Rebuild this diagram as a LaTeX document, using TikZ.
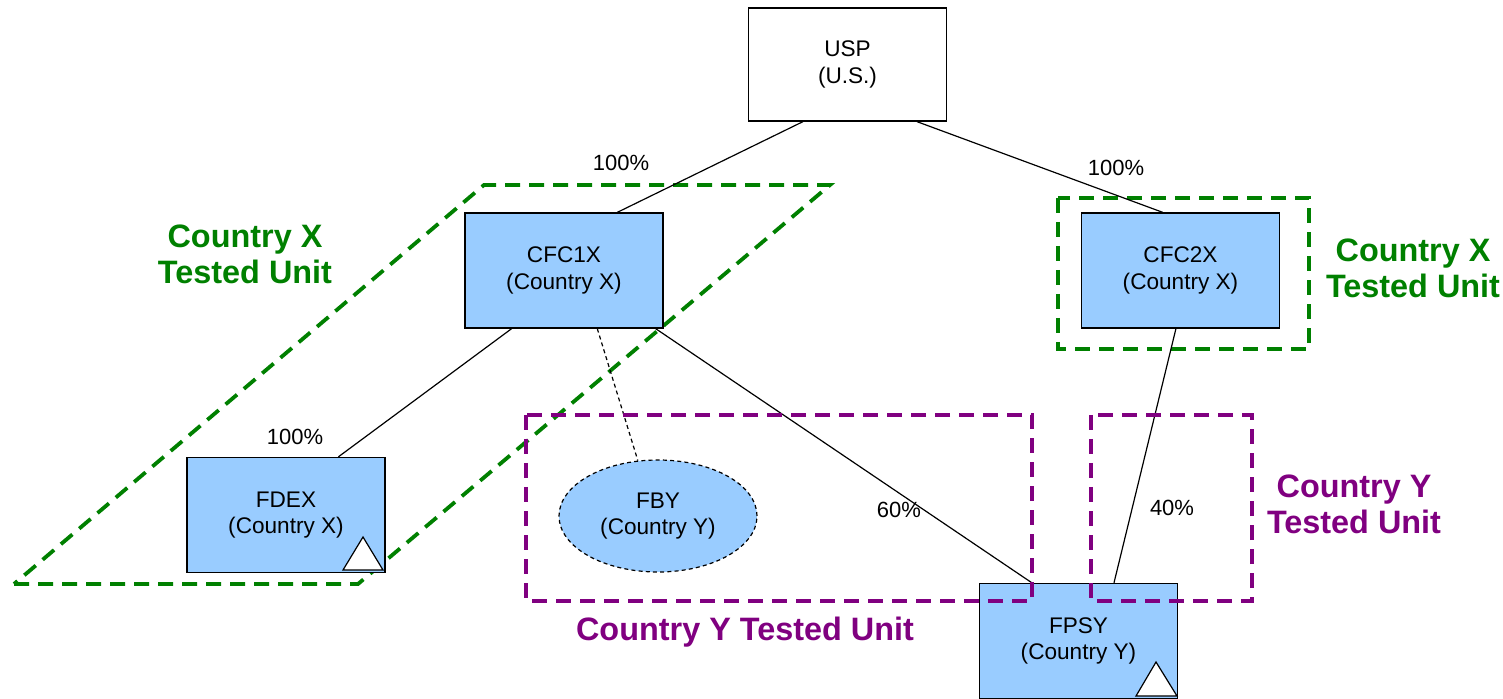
\documentclass[tikz,border=0pt]{standalone}
\usepackage{fontspec}
\setmainfont{Liberation Sans}
\usetikzlibrary{calc,shapes.geometric}
\definecolor{boxblue}{HTML}{99CCFF}
\definecolor{unitgreen}{HTML}{008000}
\definecolor{unitpurple}{HTML}{800080}
\begin{document}
\begin{tikzpicture}[x=0.5pt,y=-0.5pt,
  entity/.style={draw=black, line width=0.7pt, fill=boxblue, minimum width=99pt,
    minimum height=57.5pt, inner sep=0pt, align=center,
    font=\fontsize{11.3}{13.2}\selectfont},
  topbox/.style={entity, fill=white, minimum height=56.5pt},
  pct/.style={inner sep=0pt, font=\fontsize{11}{13}\selectfont},
  link/.style={draw=black, line width=0.6pt},
  weaklink/.style={link, dash pattern=on 2pt off 1.6pt},
  greenunit/.style={draw=unitgreen, line width=1.9pt, dash pattern=on 7.5pt off 4.5pt},
  purpleunit/.style={draw=unitpurple, line width=1.9pt, dash pattern=on 7.5pt off 4.5pt},
  greenlabel/.style={text=unitgreen, align=center, inner sep=0pt,
    font=\fontsize{16.2}{18}\selectfont\bfseries},
  purplelabel/.style={greenlabel, text=unitpurple},
  flag/.style={draw=black, line width=0.6pt, fill=white},
]
\useasboundingbox (0,0) rectangle (1503,699);

% tested unit of Country X around CFC1X and FDEX
\draw[greenunit] (14,584) -- (358,584) -- (830,185) -- (484,185) -- cycle;
% tested unit of Country X around CFC2X
\draw[greenunit] (1058,198) rectangle (1309,349);

% entities
\node[topbox] (usp) at (847.5,64.5) {USP\\(U.S.)};
\node[entity] (cfc1x) at (564,270.5) {CFC1X\\(Country X)};
\node[entity] (cfc2x) at (1180.5,270.5) {CFC2X\\(Country X)};
\node[entity] (fdex) at (286,515) {FDEX\\(Country X)};
\node[entity, ellipse, dash pattern=on 2pt off 1.6pt, line width=0.6pt,
  minimum width=99pt, minimum height=56pt] (fby) at (658,516) {FBY\\(Country Y)};
\node[entity] (fpsy) at (1078.5,641) {FPSY\\(Country Y)};

% hybrid flags
\draw[flag] (343,570) -- (383,570) -- (363,537) -- cycle;
\draw[flag] (1136,696) -- (1177,696) -- (1156,662) -- cycle;

% ownership links
\draw[link] ($(usp.south west)!0.276!(usp.south east)$) -- ($(cfc1x.north west)!0.768!(cfc1x.north east)$);
\draw[link] ($(usp.south west)!0.849!(usp.south east)$) -- ($(cfc2x.north west)!0.41!(cfc2x.north east)$);
\draw[link] ($(cfc1x.south west)!0.237!(cfc1x.south east)$) -- ($(fdex.north west)!0.763!(fdex.north east)$);
\draw[weaklink] ($(cfc1x.south west)!0.667!(cfc1x.south east)$) -- (fby.110);
\draw[link] ($(cfc1x.south west)!0.96!(cfc1x.south east)$) -- ($(fpsy.north west)!0.266!(fpsy.north east)$);
\draw[link] ($(cfc2x.south west)!0.477!(cfc2x.south east)$) -- ($(fpsy.north west)!0.678!(fpsy.north east)$);

% ownership percentages
\node[pct] (p1) at (621,163) {100\%};
\node[pct] (p2) at (1116,168) {100\%};
\node[pct] (p3) at (295,437) {100\%};
\node[pct] (p4) at (899,510) {60\%};
\node[pct] (p5) at (1172,508) {40\%};

% tested units of Country Y
\draw[purpleunit] (526,415) rectangle (1032,601);
\draw[purpleunit] (1091,415) rectangle (1252,601);

% unit captions
\node[greenlabel] (gx1) at (245,254) {Country X\\Tested Unit};
\node[greenlabel] (gx2) at (1413,268) {Country X\\Tested Unit};
\node[purplelabel] (py1) at (1354,504) {Country Y\\Tested Unit};
\node[purplelabel] (py2) at (745,632) {Country Y Tested Unit};
\end{tikzpicture}
\end{document}
